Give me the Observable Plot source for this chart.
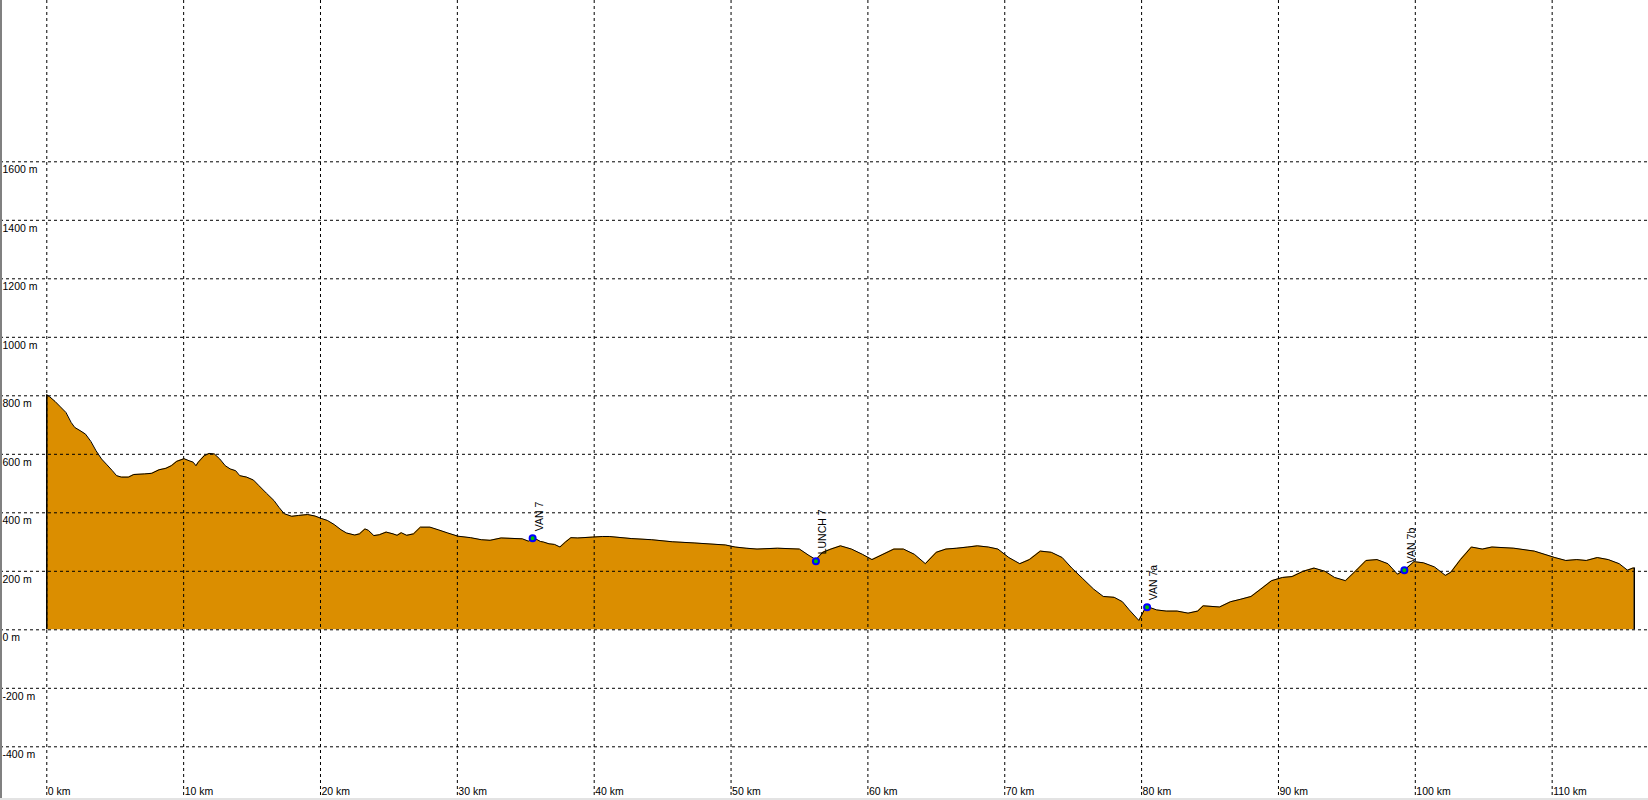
<!DOCTYPE html>
<html>
<head>
<meta charset="utf-8">
<script src="https://cdn.jsdelivr.net/npm/d3@7"></script>
<script src="https://cdn.jsdelivr.net/npm/@observablehq/plot@0.6"></script>
<style>
  html, body { margin: 0; padding: 0; background: #fff; }
  #wrap { position: relative; width: 1648px; height: 800px; overflow: hidden; }
  #wrap svg { display: block; }
  #lb { position: absolute; left: 0; top: 0; width: 2px; height: 800px; background: #808080; }
  #bb { position: absolute; left: 0; bottom: 0; width: 1648px; height: 2px; background: #e3e3e3; }
</style>
</head>
<body>
<div id="wrap"><div id="lb"></div><div id="bb"></div></div>
<script>
// Distance along the route (km)
const km = [0,0.2,0.6,1.0,1.4,1.78,2.04,2.43,2.83,3.22,3.6,4.0,4.4,4.79,5.1,5.45,5.97,6.36,7.15,7.67,8.2,8.7,9.1,9.5,10.03,10.4,10.7,10.9,11.07,11.5,11.86,12.25,12.64,13.04,13.4,13.8,14.1,14.6,15.1,15.5,16.05,16.6,16.96,17.35,17.9,18.4,19.06,19.6,20.1,20.5,21.0,21.5,21.9,22.5,22.85,23.25,23.5,23.9,24.3,24.8,25.3,25.6,25.9,26.3,26.8,27.3,28.0,28.6,29.3,30.05,30.97,31.75,32.4,33.2,34.75,35.2,35.6,36.07,36.3,36.7,37.1,37.5,37.9,38.3,38.8,39.9,40.6,41.1,42.7,44.2,45.7,47.3,49.6,50.3,51.1,51.9,53.4,55.0,55.7,56.2,56.7,57.3,58.0,58.8,59.6,60.3,61.1,61.9,62.6,63.4,64.2,65.0,65.7,66.5,67.3,68.0,68.8,69.5,70.3,71.1,71.8,72.6,73.4,74.2,74.9,75.7,76.5,77.2,78.0,78.6,79.1,79.8,80.2,80.5,81.1,81.8,82.6,83.4,84.1,84.5,85.7,86.5,87.2,88.0,88.7,89.5,90.3,91.0,91.8,92.6,93.4,94.1,94.9,95.7,96.4,97.2,98.0,98.7,99.2,99.9,100.6,101.4,102.2,102.6,103.3,104.1,104.9,105.6,107.2,108.7,110.2,111.0,111.8,112.5,113.3,114.1,114.9,115.5,115.9,116.0];
// Elevation (m)
const ele = [803,797,781,762,743,709,692,681,669,644,612,584,564,544,527,522,522,531,533,535,547,552,561,576,585,578,573,561,573,595,603,601,584,561,550,544,527,522,512,493,467,442,419,397,388,391,394,389,380,374,360,342,331,324,328,345,340,322,325,334,328,323,332,323,328,351,351,342,331,320,315,308,306,314,311,303,314,302,300,294,292,283,300,315,314,317,319,319,312,308,301,297,290,283,279,276,279,276,254,240,265,276,287,276,258,240,258,276,276,258,226,265,276,279,283,287,283,276,247,226,240,269,265,247,211,175,139,114,111,96,68,32,68,78,68,64,64,57,64,82,78,96,104,114,139,168,179,182,200,211,200,179,168,204,237,240,226,190,204,233,229,215,186,197,240,283,276,283,279,269,247,237,240,237,247,240,226,204,211,211];

// Waypoints
const wpName = ["VAN 7", "LUNCH 7", "VAN 7a", "VAN 7b"];
const wpKm = [35.5, 56.2, 80.4, 99.2];
const wpEle = [313, 234, 77, 204];

// Tick values
const xTicks = [0,10,20,30,40,50,60,70,80,90,100,110];
const yTicks = [-400,-200,0,200,400,600,800,1000,1200,1400,1600];

const profile = km.map((k, i) => ({km: k, ele: ele[i]}));
const waypoints = wpName.map((n, i) => ({name: n, km: wpKm[i], ele: wpEle[i]}));
const ends = [profile[0], profile[profile.length - 1]];

const dash = "3,3";
const font = "'Liberation Sans', Arial, sans-serif";

const chart = Plot.plot({
  width: 1648,
  height: 800,
  margin: 0,
  style: {fontFamily: font, background: "transparent", overflow: "visible"},
  x: {domain: [-3.383, 117.04], range: [0, 1648]},
  y: {domain: [-583.6, 2151.5], range: [800, 0]},
  marks: [
    Plot.areaY(profile, {x: "km", y: "ele", fill: "#db8e00"}),
    Plot.line(profile, {x: "km", y: "ele", stroke: "#000", strokeWidth: 1}),
    Plot.ruleX(ends, {x: "km", y1: 0, y2: "ele", stroke: "#000", strokeWidth: 1.5}),
    Plot.ruleX(xTicks, {stroke: "#000", strokeWidth: 1, strokeDasharray: dash}),
    Plot.ruleY(yTicks, {stroke: "#000", strokeWidth: 1, strokeDasharray: dash}),
    Plot.axisY({ticks: yTicks, tickSize: 0, tickPadding: 0, textAnchor: "start", dx: 2, dy: 8,
      tickFormat: d => `${d} m`, fontSize: 10.5, fill: "#000", label: null}),
    Plot.axisX({ticks: xTicks, anchor: "bottom", tickSize: 0, tickPadding: 0, textAnchor: "start", dx: 1, dy: -13,
      tickFormat: d => `${d} km`, fontSize: 10.5, fill: "#000", label: null}),
    Plot.dot(waypoints, {x: "km", y: "ele", r: 3, stroke: "#0000ff", strokeWidth: 2, fill: "#00c000"}),
    Plot.text(waypoints, {x: "km", y: "ele", text: "name", rotate: -90, textAnchor: "start",
      dx: 7, dy: -7, fontSize: 10.5, fill: "#000"})
  ]
});
document.getElementById("wrap").prepend(chart);
</script>
</body>
</html>
